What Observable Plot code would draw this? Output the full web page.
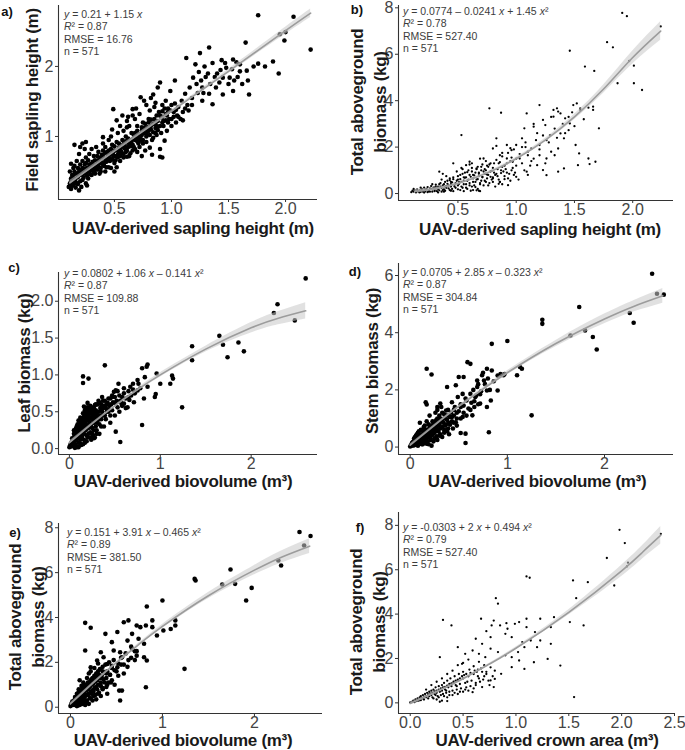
<!DOCTYPE html>
<html><head><meta charset="utf-8">
<script src="https://cdn.jsdelivr.net/npm/d3@7"></script>
<script src="https://cdn.jsdelivr.net/npm/@observablehq/plot@0.6"></script>
<style>
html,body{margin:0;padding:0;background:#fff;}
#wrap{position:relative;width:685px;height:750px;overflow:hidden;font-family:"Liberation Sans",Arial,sans-serif;}
.cell{position:absolute;}
.t{position:absolute;white-space:nowrap;line-height:1;}
.lab{font-weight:bold;font-size:13px;color:#111;transform:translate(-50%,-50%);}
.xt{font-weight:bold;font-size:17px;letter-spacing:-0.3px;color:#1a1a1a;transform:translate(-50%,-50%);}
.yt{font-weight:bold;font-size:17px;letter-spacing:-0.3px;color:#1a1a1a;transform:translate(-50%,-50%) rotate(-90deg);text-align:center;}
.ann{font-size:10.5px;color:#3c3c3c;line-height:12.3px;}
.ann i{font-style:italic;}
</style>
</head><body>
<div id="wrap"></div>
<script>
// ---------- Panel a: UAV-derived vs field sapling height ----------
const ptsA = [[1.76,2.73],[2.07,2.71],[1.95,2.46],[2.0,2.49],[1.99,2.37],[2.22,2.24],[1.65,2.34],[1.33,2.27],[1.25,2.19],[1.13,2.12],[1.44,2.09],[1.54,2.10],[1.76,2.04],[1.82,2.0],[1.89,2.07],[1.94,1.90],[1.68,1.60],[1.54,1.65],[1.67,1.80],[1.66,1.94],[1.60,2.03],[1.57,2.06],[1.51,1.84],[1.53,1.96],[1.42,1.77],[1.36,1.46],[1.27,1.70],[1.21,2.03],[1.19,1.84],[1.16,1.70],[1.12,1.61],[1.03,1.80],[0.99,1.65],[0.90,1.77],[0.88,1.70],[0.95,1.51],[1.06,1.42],[1.09,1.51],[1.15,1.37],[1.10,1.23],[0.99,1.37],[1.27,1.51],[1.33,1.61],[1.39,1.70],[1.45,1.84],[1.48,1.98],[1.40,1.90],[1.30,1.85],[1.24,1.92],[1.22,1.75],[1.18,1.55],[1.28,1.62],[1.34,1.75],[1.45,1.60],[1.58,1.85],[1.62,1.75],[1.72,2.0],[1.60,1.93],[1.29,2.0],[1.32,1.90],[1.36,2.05],[1.38,1.85],[1.43,1.95],[1.47,2.05],[1.50,1.75],[1.55,1.80],[1.26,1.80],[1.23,1.62],
[0.73,1.56],[0.76,1.51],[0.81,1.37],[0.85,1.42],[0.91,1.27],[0.66,1.39],[0.57,1.30],[0.52,1.23],[0.49,1.39],[0.61,1.13],[0.70,1.04],[0.79,1.13],[0.88,1.09],[0.94,0.94],[0.90,0.82],[0.90,0.71],[0.81,0.84],[0.64,0.94],[0.55,0.80],[0.40,0.99],[0.34,0.85],[0.22,0.90],[0.19,0.75],[0.12,0.61],[0.10,0.28],[0.19,0.23],[0.25,0.33],[0.37,0.47],[0.43,0.56],[0.31,0.56],[0.52,0.56],[0.61,0.71],[0.67,0.85],[0.73,0.94],
[0.82,1.55],[0.86,1.48],[0.92,1.45],[0.97,1.40],[1.02,1.35],[1.05,1.30],[1.08,1.25],[1.12,1.40],[1.03,1.47],[0.95,1.32],[0.86,1.20],[0.80,1.25],[0.75,1.20],[0.70,1.15],[0.68,1.25],[0.72,1.32],[0.78,1.00],[0.84,0.98],[0.86,1.05],[0.93,1.15],[0.97,1.20],[1.00,1.25],[0.60,1.00],[0.57,0.95],[0.53,1.05],[0.48,1.10],[0.45,0.95],[0.45,0.80],[0.50,0.72],[0.55,0.65],[0.58,0.75],[0.62,0.85],[0.65,1.05],[0.68,0.95],[0.72,0.85],[0.75,0.90],[0.77,0.80],[0.40,0.80],[0.38,0.70],[0.35,0.65],[0.32,0.72],[0.28,0.75],[0.25,0.70],[0.22,0.65],[0.18,0.55],[0.15,0.50],[0.13,0.45],[0.14,0.35],[0.16,0.40],[0.20,0.45],[0.23,0.50],[0.26,0.55],[0.29,0.60],[0.33,0.58],[0.36,0.62],[0.40,0.60],[0.42,0.68],[0.46,0.65],[0.50,0.62],[0.53,0.70],[0.56,0.85],[0.60,0.78],[0.63,0.72],[0.66,0.80],[0.70,0.78],[0.74,0.72],[0.30,0.45],[0.27,0.40],[0.22,0.38],[0.18,0.32],[0.12,0.38],[0.11,0.50],[0.15,0.58],[0.20,0.60],[0.24,0.60],[0.28,0.50],[0.32,0.50],[0.35,0.53],[0.38,0.55],[0.42,0.50],[0.47,0.55],[0.50,0.50],[0.26,0.30],[0.21,0.28],[0.16,0.27],[0.30,0.82],[0.36,0.78],[0.42,0.85],[0.48,0.88],[0.52,0.92],[0.58,1.08],[0.63,1.15],[0.20,0.85],[0.27,0.66],[0.33,0.66],[0.39,0.74],[0.44,0.74],[0.49,0.78],[0.54,0.78],[0.59,0.88],[0.65,0.90],[0.70,0.95],[0.74,1.08],[0.78,1.10],[0.82,1.15],[0.87,1.30],[0.92,1.36],[0.96,1.08],[1.00,1.15],[1.04,1.20],[1.06,1.28],[1.10,1.35],[1.14,1.45],[1.18,1.45],[0.40,0.90],[0.47,1.00],[0.55,1.15],[0.61,1.22],[0.66,1.30],[0.69,1.40],[0.78,1.45],[0.84,1.60],[0.62,1.28],[0.24,0.82],[0.17,0.65],[0.14,0.55],[0.12,0.25]];
const ptsA2 = [[0.11,0.33],[0.12,0.29],[0.13,0.41],[0.14,0.30],[0.15,0.37],[0.16,0.47],[0.17,0.33],[0.18,0.42],[0.19,0.50],[0.20,0.36],[0.21,0.46],[0.22,0.55],[0.23,0.41],[0.24,0.47],[0.25,0.62],[0.26,0.44],[0.27,0.53],[0.28,0.60],[0.29,0.46],[0.30,0.52],[0.31,0.64],[0.32,0.55],[0.33,0.47],[0.34,0.60],[0.35,0.72],[0.36,0.57],[0.37,0.66],[0.38,0.50],[0.39,0.63],[0.40,0.70],[0.41,0.58],[0.42,0.77],[0.43,0.64],[0.44,0.69],[0.45,0.56],[0.46,0.74],[0.47,0.82],[0.48,0.67],[0.49,0.72],[0.50,0.86],[0.51,0.66],[0.52,0.80],[0.53,0.74],[0.54,0.90],[0.55,0.72],[0.56,0.79],[0.57,0.87],[0.58,0.70],[0.59,0.83],[0.60,0.93],[0.61,0.80],[0.62,0.97],[0.63,0.88],[0.64,0.76],[0.65,0.95],[0.66,0.88],[0.67,1.02],[0.68,0.82],[0.69,0.98],[0.70,1.08],[0.71,0.90],[0.72,1.03],[0.73,0.97],[0.74,1.13],[0.75,0.95],[0.76,1.05],[0.77,1.18],[0.78,0.92],[0.79,1.07],[0.80,1.20],[0.81,1.02],[0.82,1.10],[0.83,0.95],[0.84,1.18],[0.85,1.25],[0.86,1.12],[0.87,1.02],[0.88,1.22],[0.89,1.35],[0.90,1.15],[0.91,1.05],[0.92,1.28],[0.93,1.22],[0.94,1.40],[0.96,1.30],[0.98,1.25],[1.00,1.45],[1.02,1.28],[1.04,1.38],
[0.12,0.40],[0.14,0.45],[0.16,0.35],[0.18,0.47],[0.20,0.52],[0.22,0.46],[0.24,0.54],[0.26,0.49],[0.28,0.56],[0.30,0.61],[0.32,0.59],[0.34,0.53],[0.36,0.66],[0.38,0.62],[0.40,0.73],[0.42,0.64],[0.44,0.78],[0.46,0.69],[0.48,0.76],[0.50,0.80],[0.52,0.72],[0.54,0.84],[0.56,0.76],[0.58,0.89],[0.60,0.84],[0.62,0.92],[0.64,0.86],[0.66,0.96],[0.68,1.05],[0.70,0.93],[0.72,0.98],[0.74,1.02],[0.76,1.12],[0.78,1.03],[0.80,1.08],[0.82,1.24],[0.84,1.06],[0.86,1.17],[0.88,1.14],[0.90,1.30],[0.92,1.20],[0.95,1.23],[0.97,1.35],[0.25,0.92],[0.15,0.88],[0.83,0.74],[0.92,0.70]];
const fitA = [[0.11,0.34,0.31,0.37],[0.5,0.79,0.77,0.81],[1.0,1.36,1.34,1.38],[1.5,1.93,1.90,1.96],[2.0,2.51,2.46,2.56],[2.22,2.76,2.70,2.82]];

// ---------- Panel b ----------
const ptsB = [[1.91,7.78],[1.95,7.64],[2.24,7.2],[1.78,6.52],[1.83,6.3],[1.46,6.15],[1.59,5.47],[1.67,5.28],[1.97,5.71],[2.01,5.51],[1.87,4.75],[2.01,4.75],[2.08,4.46],[1.71,2.81],[1.66,3.74],[1.66,3.6],[1.45,2.73],[1.51,2.09],[1.54,1.73],[1.53,1.22],[1.62,1.51],[1.63,1.27],[1.68,1.37],[1.41,1.08],[1.36,0.94],[1.26,0.79],[1.23,1.01],[0.77,3.67],[0.87,3.48],[0.53,2.52],[1.09,3.45],[1.20,3.81],[1.32,3.6],[1.35,3.67],[1.36,3.53],[1.49,3.81],[1.52,3.88],[1.55,3.67],[1.42,3.24],[1.46,3.02],[1.32,3.31],[1.23,3.17],[1.15,2.88],[1.07,2.81],[1.05,2.38],[1.0,2.09],[0.96,1.87],[0.92,2.09],[0.83,2.38],[0.80,1.94],[0.86,1.65],[0.92,1.51],[0.97,1.37],[1.03,1.51],[1.10,1.65],[1.13,1.94],[1.20,2.09],[1.26,2.30],[1.29,2.52],[1.38,2.59],[1.41,2.38],[1.36,1.94],[1.20,1.65],[1.18,1.22],[1.09,0.94],[1.0,0.72],[0.93,0.36],[0.86,0.50],[0.66,0.14],[0.69,0.1],[0.80,0.65],[0.74,0.86],[0.66,1.08],[0.60,1.37],[0.72,1.51],[0.34,0.94],[0.46,1.3],[0.57,1.22],[1.26,1.51],[1.33,1.65],
[0.15,0.1],[0.18,0.12],[0.2,0.08],[0.22,0.15],[0.25,0.1],[0.27,0.2],[0.3,0.15],[0.3,0.25],[0.33,0.2],[0.35,0.3],[0.37,0.15],[0.38,0.4],[0.4,0.25],[0.42,0.35],[0.44,0.5],[0.45,0.2],[0.47,0.3],[0.48,0.45],[0.5,0.6],[0.5,0.35],[0.52,0.15],[0.53,0.5],[0.55,0.7],[0.55,0.4],[0.57,0.25],[0.58,0.55],[0.6,0.8],[0.6,0.45],[0.62,0.3],[0.63,0.65],[0.65,0.9],[0.65,0.5],[0.67,0.2],[0.68,0.75],[0.7,1.0],[0.7,0.55],[0.72,0.35],[0.73,0.85],[0.75,1.2],[0.75,0.65],[0.77,0.45],[0.78,0.95],[0.8,1.1],[0.8,0.7],[0.82,0.3],[0.83,0.85],[0.85,1.3],[0.85,0.6],[0.87,1.0],[0.88,0.4],[0.9,1.2],[0.9,0.75],[0.92,0.9],[0.95,1.4],[0.95,0.55],[0.97,1.1],[0.98,0.8],[1.0,1.5],[1.0,1.2],[1.02,0.6],[1.05,1.3],[1.07,1.0],[1.1,1.8],[1.1,0.8],[1.12,1.2],[1.15,1.5],[0.17,0.05],[0.21,0.04],[0.24,0.06],[0.28,0.08],[0.32,0.1],[0.36,0.08],[0.39,0.12],[0.43,0.15],[0.46,0.1],[0.5,0.18],[0.54,0.25],[0.58,0.2],[0.61,0.12],[0.64,0.35],[0.66,0.6],[0.69,0.45],[0.71,0.7],[0.74,0.5],[0.76,0.8],[0.79,0.6],[0.81,0.9],[0.84,0.75],[0.86,0.5],[0.89,0.95],[0.91,1.05],[0.93,0.65],[0.96,1.0],[0.99,0.9],[0.34,0.4],[0.41,0.55],[0.46,0.7],[0.52,0.8],[0.56,0.9],[0.59,1.0],[0.62,1.1],[0.67,1.15],[0.71,1.25],[0.74,1.4],[0.37,0.85],[0.43,0.65],[0.49,0.95],[0.54,1.05],[0.62,1.3],[0.69,1.5],[0.78,1.3],[0.83,1.45],[0.88,1.6],[0.93,1.75],[0.98,1.9],[1.03,1.7],[1.08,2.0],[1.13,1.4],[1.17,2.3],[1.2,1.9],[1.23,2.5],[1.25,1.3],[1.28,2.2],[1.3,1.8],[1.33,2.8],[1.35,2.4],[1.4,3.0],[1.42,2.6],[1.45,3.3],[1.48,3.5],[1.5,2.9],[1.55,3.6],[1.58,3.2],[1.62,3.7],[1.25,2.95],[1.18,2.6],[1.15,3.0],[1.3,3.3],[1.38,3.45],[1.05,2.0],[1.08,2.2],[0.95,1.95],[0.88,1.75],[0.83,2.05],[0.76,1.15],[0.73,1.05],[0.68,0.9],[0.63,0.8],[0.57,0.7],[0.51,0.5],[0.44,0.4],[0.39,0.3],[0.31,0.3],[0.26,0.22],[0.23,0.2]];
const ptsB2 = [[0.10,0.06],[0.11,0.12],[0.12,0.08],[0.13,0.15],[0.14,0.05],[0.15,0.18],[0.16,0.09],[0.17,0.14],[0.18,0.07],[0.19,0.2],[0.2,0.12],[0.21,0.25],[0.22,0.09],[0.23,0.18],[0.24,0.28],[0.25,0.15],[0.26,0.08],[0.27,0.32],[0.28,0.18],[0.29,0.25],[0.3,0.1],[0.31,0.38],[0.32,0.22],[0.33,0.3],[0.34,0.14],[0.35,0.45],[0.36,0.25],[0.37,0.35],[0.38,0.18],[0.39,0.5],[0.4,0.32],[0.41,0.42],[0.42,0.22],[0.43,0.58],[0.44,0.3],[0.45,0.48],[0.46,0.62],[0.47,0.38],[0.48,0.25],[0.49,0.55],[0.5,0.75],[0.51,0.42],[0.52,0.62],[0.53,0.3],[0.54,0.85],[0.55,0.55],[0.56,0.68],[0.57,0.4],[0.58,0.92],[0.59,0.6],[0.6,0.35],[0.61,0.72],[0.62,0.95],[0.63,0.5],[0.64,0.78],[0.65,0.28],[0.66,1.05],[0.67,0.62],[0.68,0.85],[0.69,0.4],[0.7,1.15],[0.71,0.72],[0.72,0.95],[0.73,0.55],[0.74,1.0],[0.75,0.82],[0.76,0.35],[0.77,1.25],[0.78,0.72],[0.79,0.98],[0.8,0.5],[0.81,1.3],[0.82,0.8],[0.84,1.05],[0.85,0.42],[0.86,1.35],[0.87,0.88],[0.88,1.15],[0.9,0.62],[0.92,1.3],[0.94,0.85],[0.96,1.55],[0.12,0.2],[0.18,0.25],[0.28,0.4],[0.36,0.6],[0.4,0.75],[0.53,1.1],[0.6,1.25],[0.33,0.05],[0.38,0.08],[0.44,0.12],[0.55,0.1],[0.63,0.15],[0.68,0.12]];
const fitB = [[0.13,0.1,0.02,0.18],[0.3,0.2,0.14,0.26],[0.5,0.43,0.38,0.48],[0.75,0.88,0.83,0.93],[1.0,1.5,1.44,1.56],[1.25,2.3,2.22,2.38],[1.5,3.3,3.18,3.42],[1.75,4.5,4.32,4.68],[2.0,5.86,5.58,6.14],[2.24,7.0,6.6,7.4]];

// ---------- Panel c ----------
const ptsC = [[2.6,2.31],[2.29,1.96],[2.25,1.84],[2.48,1.74],[1.65,1.53],[1.35,1.39],[1.35,1.2],[1.69,1.41],[1.86,1.44],[1.92,1.32],[1.74,1.24],[1.24,0.56],[0.39,1.13],[0.15,0.98],[0.15,0.89],[0.21,0.95],[0.10,0.38],[0.27,0.14],[0.51,0.23],[0.56,0.09],[0.80,0.32],[0.94,0.7],[1.0,0.88],[1.11,0.88],[1.14,0.95],[1.13,0.99],[0.96,1.02],[0.85,1.11],[0.86,1.14],[0.80,1.09],[0.83,0.97],[0.75,0.93],[0.76,0.88],[0.75,0.79],[0.67,0.84],[0.65,0.7],[0.71,0.63],[0.60,0.61],[0.53,0.56],[0.56,0.65],[0.51,0.79],[0.47,0.7],[0.42,0.61],[0.64,0.56],[0.82,0.68],[0.86,0.84],[0.95,0.74],[0.49,0.77],[0.54,0.88],[0.36,0.7],[0.32,0.65],[0.28,0.59],[0.24,0.56],[0.2,0.56],[0.16,0.57],[0.43,0.53],[0.35,0.45],
[0,0.02],[0.01,0.05],[0.02,0.03],[0.02,0.08],[0.03,0.1],[0.03,0.04],[0.04,0.12],[0.04,0.06],[0.05,0.15],[0.05,0.08],[0.06,0.18],[0.06,0.1],[0.07,0.2],[0.07,0.05],[0.08,0.22],[0.08,0.12],[0.09,0.25],[0.09,0.15],[0.1,0.28],[0.1,0.18],[0.1,0.08],[0.11,0.3],[0.11,0.2],[0.12,0.32],[0.12,0.22],[0.12,0.12],[0.13,0.35],[0.13,0.25],[0.14,0.38],[0.14,0.28],[0.14,0.16],[0.15,0.4],[0.15,0.3],[0.16,0.43],[0.16,0.33],[0.16,0.2],[0.17,0.45],[0.17,0.35],[0.18,0.48],[0.18,0.38],[0.18,0.25],[0.19,0.42],[0.2,0.5],[0.2,0.4],[0.2,0.3],[0.21,0.45],[0.22,0.52],[0.22,0.35],[0.23,0.48],[0.24,0.42],[0.24,0.3],[0.25,0.5],[0.26,0.45],[0.26,0.35],[0.27,0.55],[0.28,0.48],[0.28,0.38],[0.29,0.52],[0.3,0.45],[0.3,0.35],[0.31,0.6],[0.32,0.5],[0.33,0.4],[0.34,0.55],[0.35,0.6],[0.36,0.5],[0.37,0.45],[0.38,0.58],[0.39,0.65],[0.4,0.55],[0.41,0.5],[0.42,0.62],[0.44,0.58],[0.45,0.68],[0.46,0.6],[0.48,0.63],[0.5,0.7],[0.52,0.65],[0.55,0.72],[0.58,0.7],[0.6,0.75],[0.62,0.68],[0.65,0.78],[0.68,0.72],[0.7,0.8],[0.72,0.75],[0.25,0.2],[0.23,0.15],[0.19,0.1],[0.15,0.06],[0.1,0.02],[0.06,0.01],[0.3,0.25],[0.28,0.15],[0.35,0.3],[0.33,0.2],[0.4,0.4],[0.38,0.3],[0.45,0.45],[0.5,0.45],[0.55,0.5],[0.58,0.58],[0.62,0.55],[0.45,0.35],[0.2,0.62],[0.18,0.55],[0.12,0.42],[0.08,0.3],[0.13,0.05],[0.17,0.08],[0.21,0.2],[0.05,0.25]];
const ptsC2 = [[0.03,0.14],[0.05,0.2],[0.07,0.12],[0.07,0.27],[0.09,0.2],[0.09,0.33],[0.11,0.14],[0.11,0.38],[0.13,0.2],[0.13,0.3],[0.15,0.22],[0.15,0.35],[0.15,0.48],[0.17,0.27],[0.17,0.4],[0.17,0.52],[0.19,0.18],[0.19,0.32],[0.19,0.55],[0.21,0.28],[0.21,0.38],[0.21,0.52],[0.23,0.22],[0.23,0.33],[0.23,0.42],[0.23,0.58],[0.25,0.28],[0.25,0.4],[0.25,0.55],[0.27,0.25],[0.27,0.35],[0.27,0.45],[0.29,0.3],[0.29,0.42],[0.29,0.6],[0.31,0.38],[0.31,0.5],[0.33,0.33],[0.33,0.45],[0.33,0.62],[0.35,0.4],[0.35,0.52],[0.37,0.55],[0.37,0.65],[0.39,0.45],[0.39,0.58],[0.41,0.6],[0.43,0.5],[0.43,0.68],[0.47,0.52],[0.47,0.72],[0.5,0.62],[0.53,0.78],[0.57,0.62],[0.6,0.82],[0.66,0.66],[0.7,0.88],[0.78,0.82],[0.08,0.02],[0.12,0.07],[0.16,0.12],[0.2,0.15],[0.24,0.12],[0.26,0.18],[0.3,0.2]];
const fitC = [[0.0,0.08,0.06,0.10],[0.25,0.34,0.33,0.35],[0.5,0.58,0.57,0.59],[0.75,0.8,0.78,0.82],[1.0,1.0,0.97,1.03],[1.5,1.35,1.31,1.39],[2.0,1.64,1.57,1.71],[2.3,1.77,1.68,1.86],[2.6,1.87,1.76,1.98]];

// ---------- Panel d ----------
const ptsD = [[2.49,6.06],[2.54,5.36],[2.61,5.33],[1.74,4.9],[1.65,3.9],[1.80,4.08],[1.88,3.85],[1.92,3.41],[2.26,4.69],[2.30,4.35],[1.36,4.45],[1.36,4.31],[0.84,3.61],[1.0,3.71],[1.25,1.11],[0.17,2.74],[0.22,2.54],[1.13,2.8],[1.15,2.74],[1.10,2.51],[0.96,2.51],[0.59,2.97],[0.62,2.91],[0.81,0.52],[0.57,0.47],[0.57,0.14],[0.52,0.49],[0.38,2.1],[0.47,2.16],[0.84,2.68],[0.79,2.74],[0.74,2.51],[0.76,2.33],[0.69,2.1],[0.79,1.98],[0.83,1.63],[0.72,1.52],[0.67,1.75],[0.62,1.86],[0.58,1.63],[0.52,1.4],[0.54,1.86],[0.49,1.75],[0.43,1.57],[0.31,1.52],[0.28,1.4],[0.37,1.28],[0.16,1.57],[0.17,1.49],[0.42,1.05],[0.47,0.87],[0.54,1.05],[0.64,1.11],[0.66,1.4],[0.79,1.4],[0.69,2.33],[0.9,1.98],[0.5,2.45],[0.55,2.45],
[0.0,0.02],[0.01,0.08],[0.02,0.05],[0.02,0.15],[0.03,0.1],[0.04,0.2],[0.04,0.06],[0.05,0.25],[0.05,0.12],[0.06,0.3],[0.06,0.15],[0.07,0.22],[0.08,0.35],[0.08,0.18],[0.09,0.28],[0.1,0.4],[0.1,0.2],[0.11,0.32],[0.12,0.45],[0.12,0.25],[0.13,0.38],[0.14,0.5],[0.14,0.28],[0.15,0.42],[0.16,0.55],[0.16,0.3],[0.17,0.45],[0.18,0.6],[0.18,0.35],[0.19,0.5],[0.2,0.7],[0.2,0.4],[0.21,0.55],[0.22,0.75],[0.22,0.45],[0.23,0.6],[0.24,0.85],[0.24,0.5],[0.25,0.65],[0.26,0.9],[0.26,0.55],[0.27,0.7],[0.28,1.0],[0.28,0.6],[0.29,0.75],[0.3,1.1],[0.3,0.8],[0.31,0.65],[0.32,0.9],[0.33,1.2],[0.34,0.85],[0.35,1.0],[0.36,0.75],[0.37,1.1],[0.38,0.95],[0.39,1.3],[0.4,0.85],[0.41,1.05],[0.42,1.2],[0.43,0.9],[0.45,1.1],[0.46,1.4],[0.48,1.0],[0.5,1.25],[0.52,1.5],[0.55,1.2],[0.57,1.7],[0.6,1.35],[0.63,1.55],[0.65,2.0],[0.68,1.8],[0.7,2.2],[0.73,1.95],[0.75,2.6],[0.77,2.2],[0.8,2.4],[0.82,2.0],[0.86,2.3],[0.9,2.5],[0.93,2.55],[0.97,2.55],[0.12,0.1],[0.15,0.15],[0.18,0.2],[0.21,0.25],[0.25,0.3],[0.3,0.4],[0.35,0.5],[0.22,0.05],[0.19,0.1],[0.17,0.9],[0.14,0.7],[0.11,0.6],[0.28,1.3],[0.32,1.4],[0.26,1.2],[0.08,0.5],[0.06,0.4],[0.04,0.3],[0.44,0.65],[0.38,0.55]];
const ptsD2 = [[0.03,0.18],[0.05,0.08],[0.05,0.35],[0.07,0.15],[0.07,0.45],[0.09,0.22],[0.09,0.55],[0.11,0.15],[0.11,0.42],[0.13,0.25],[0.13,0.6],[0.15,0.32],[0.15,0.75],[0.17,0.22],[0.17,0.6],[0.19,0.38],[0.19,0.8],[0.21,0.3],[0.21,0.68],[0.23,0.42],[0.23,0.9],[0.25,0.5],[0.25,0.8],[0.27,0.38],[0.27,0.95],[0.29,0.55],[0.29,0.88],[0.31,0.45],[0.31,1.0],[0.33,0.7],[0.33,0.95],[0.35,0.6],[0.35,1.15],[0.37,0.8],[0.39,0.65],[0.39,1.1],[0.41,0.78],[0.43,1.05],[0.45,0.85],[0.45,1.3],[0.48,0.75],[0.48,1.2],[0.52,1.0],[0.55,1.45],[0.58,1.1],[0.62,1.3],[0.66,1.6],[0.7,1.5],[0.72,1.85],[0.08,0.05],[0.13,0.1],[0.17,0.12],[0.24,0.2],[0.28,0.25],[0.33,0.35],[0.4,0.45],[0.1,0.85],[0.2,1.1]];
const fitD = [[0.0,0.07,0.03,0.11],[0.25,0.76,0.73,0.79],[0.5,1.42,1.39,1.45],[0.75,2.03,1.98,2.08],[1.0,2.6,2.53,2.67],[1.5,3.62,3.51,3.73],[2.0,4.48,4.31,4.65],[2.3,4.92,4.72,5.12],[2.6,5.29,5.03,5.55]];

// ---------- Panel e ----------
const ptsE = [[2.49,7.81],[2.61,7.63],[2.54,7.21],[2.26,6.54],[2.29,6.32],[1.74,6.14],[1.65,5.47],[1.79,5.5],[1.97,5.32],[1.91,4.76],[1.35,5.72],[1.36,5.65],[0.83,4.49],[1.0,4.76],[1.24,1.71],[0.16,3.76],[0.22,3.54],[0.16,2.53],[0.38,3.27],[0.45,2.9],[0.51,3.35],[0.58,3.79],[0.63,3.87],[0.72,3.64],[0.76,3.57],[0.82,3.64],[0.89,3.87],[0.89,3.57],[0.94,3.2],[1.01,3.42],[1.09,3.49],[1.14,3.87],[1.14,3.64],[0.80,2.83],[0.74,3.05],[0.67,2.6],[0.54,2.45],[0.56,2.23],[0.72,2.3],[0.80,2.23],[0.83,2.08],[0.82,0.89],[0.53,0.74],[0.56,0.74],[0.54,0.3],[0.51,1.78],[0.47,2.53],[0.40,1.93],[0.36,2.23],[0.33,2.45],[0.29,2.08],[0.22,1.78],[0.62,2.97],[0.67,3.27],
[0.0,0.05],[0.01,0.15],[0.02,0.1],[0.02,0.25],[0.03,0.18],[0.04,0.3],[0.04,0.1],[0.05,0.35],[0.05,0.2],[0.06,0.45],[0.06,0.25],[0.07,0.35],[0.08,0.55],[0.08,0.3],[0.09,0.45],[0.1,0.6],[0.1,0.35],[0.11,0.5],[0.12,0.7],[0.12,0.4],[0.13,0.6],[0.14,0.8],[0.14,0.45],[0.15,0.65],[0.16,0.9],[0.16,0.5],[0.17,0.75],[0.18,1.0],[0.18,0.55],[0.19,0.8],[0.2,1.1],[0.2,0.6],[0.21,0.9],[0.22,1.2],[0.22,0.7],[0.23,1.0],[0.24,1.3],[0.24,0.75],[0.25,1.05],[0.26,1.4],[0.26,0.85],[0.27,1.15],[0.28,1.5],[0.28,0.9],[0.29,1.2],[0.3,1.6],[0.3,1.0],[0.31,1.3],[0.32,1.7],[0.33,1.1],[0.34,1.4],[0.35,1.8],[0.36,1.25],[0.37,1.55],[0.38,1.9],[0.39,1.3],[0.4,1.6],[0.42,2.0],[0.43,1.45],[0.45,1.75],[0.47,2.1],[0.5,1.6],[0.52,1.95],[0.55,2.2],[0.58,1.9],[0.6,2.4],[0.63,2.1],[0.66,2.7],[0.7,2.5],[0.12,0.15],[0.15,0.25],[0.18,0.3],[0.22,0.4],[0.25,0.5],[0.3,0.6],[0.2,0.15],[0.16,0.1],[0.1,0.1],[0.07,0.05],[0.14,1.1],[0.12,0.95],[0.09,0.8],[0.18,1.3],[0.22,1.6],[0.26,1.75],[0.3,1.95],[0.35,0.85],[0.4,1.0],[0.44,1.1]];
const ptsE2 = [[0.03,0.25],[0.05,0.12],[0.05,0.45],[0.07,0.2],[0.07,0.6],[0.09,0.3],[0.09,0.7],[0.11,0.2],[0.11,0.6],[0.13,0.35],[0.13,0.85],[0.15,0.45],[0.15,1.0],[0.17,0.3],[0.17,0.85],[0.19,0.55],[0.19,1.1],[0.21,0.4],[0.21,0.95],[0.23,0.6],[0.23,1.25],[0.25,0.7],[0.25,1.15],[0.27,0.55],[0.27,1.35],[0.29,0.8],[0.29,1.3],[0.31,0.65],[0.31,1.45],[0.33,0.95],[0.33,1.3],[0.35,0.8],[0.35,1.6],[0.37,1.1],[0.39,0.9],[0.39,1.5],[0.41,1.1],[0.43,1.45],[0.45,1.2],[0.45,1.85],[0.48,1.0],[0.48,1.65],[0.52,1.4],[0.55,1.9],[0.58,1.5],[0.62,1.8],[0.66,2.2],[0.7,2.1],[0.72,2.5],[0.08,0.08],[0.13,0.15],[0.17,0.18],[0.24,0.3],[0.28,0.35],[0.33,0.5],[0.4,0.6],[0.1,1.2],[0.2,1.5]];
const fitE = [[0.0,0.15,0.1,0.2],[0.25,1.1,1.06,1.14],[0.5,1.99,1.95,2.03],[0.75,2.82,2.76,2.88],[1.0,3.6,3.51,3.69],[1.5,4.97,4.83,5.11],[2.0,6.11,5.9,6.32],[2.3,6.7,6.43,6.97],[2.6,7.18,6.85,7.51]];

// ---------- Panel f ----------
const ptsF = [[1.98,7.80],[2.03,7.2],[2.37,7.62],[1.86,6.53],[2.05,6.15],[2.06,6.32],[1.93,5.29],[1.54,5.52],[1.68,5.44],[1.57,4.72],[1.10,5.7],[1.13,5.64],[0.81,4.72],[0.83,4.47],[0.31,3.74],[0.39,3.49],[0.28,2.06],[0.45,2.51],[0.67,3.79],[0.79,3.71],[0.77,3.49],[0.72,3.23],[0.85,3.49],[0.91,3.59],[0.92,3.34],[0.99,3.56],[1.03,3.64],[1.10,3.79],[1.10,3.41],[1.23,3.79],[1.36,3.86],[1.33,3.41],[1.51,3.64],[1.64,3.49],[1.33,2.66],[1.30,1.98],[1.42,1.68],[1.55,0.26],[1.18,3.19],[1.14,2.81],[0.90,3.11],[0.96,2.96],[0.76,2.96],[0.68,2.66],[0.62,2.89],[0.59,2.36],[0.52,2.21],[0.49,1.76],[0.65,2.21],[0.71,2.06],[0.76,2.44],[0.83,2.29],[0.9,2.14],[0.96,2.06],[1.02,2.29],[1.03,1.91],[0.96,1.61],[0.86,1.31],[0.80,1.08],[0.79,0.71],[0.76,1.01],[0.68,0.71],[0.59,0.48],[1.08,1.53],[1.17,1.83],[1.08,2.51],[1.20,2.51],[1.23,2.81],[1.06,2.74],
[0.0,0.02],[0.02,0.05],[0.03,0.1],[0.04,0.03],[0.05,0.15],[0.06,0.08],[0.07,0.2],[0.08,0.1],[0.09,0.25],[0.1,0.12],[0.1,0.3],[0.12,0.2],[0.12,0.35],[0.13,0.15],[0.14,0.4],[0.15,0.25],[0.16,0.45],[0.17,0.2],[0.18,0.5],[0.18,0.3],[0.2,0.55],[0.2,0.35],[0.21,0.25],[0.22,0.6],[0.23,0.4],[0.24,0.7],[0.25,0.45],[0.26,0.3],[0.27,0.75],[0.28,0.5],[0.29,0.35],[0.3,0.8],[0.3,0.55],[0.31,0.4],[0.32,0.9],[0.33,0.6],[0.34,0.45],[0.35,1.0],[0.36,0.7],[0.37,0.5],[0.38,1.1],[0.39,0.75],[0.4,0.55],[0.41,0.9],[0.42,1.2],[0.43,0.8],[0.44,0.6],[0.45,1.0],[0.46,1.3],[0.47,0.85],[0.48,0.65],[0.5,1.1],[0.5,1.4],[0.52,0.9],[0.53,0.7],[0.55,1.2],[0.56,1.5],[0.58,1.0],[0.6,1.3],[0.62,0.9],[0.63,1.4],[0.65,1.1],[0.67,1.55],[0.7,1.2],[0.72,1.4],[0.74,1.0],[0.76,1.6],[0.3,0.1],[0.25,0.15],[0.35,0.25],[0.4,0.35],[0.45,0.4],[0.5,0.5],[0.55,0.55],[0.6,0.65],[0.15,0.6],[0.2,0.8],[0.25,0.95],[0.3,1.1],[0.35,1.3],[0.4,1.45],[0.45,1.7],[0.5,1.8],[0.55,1.95],[0.6,1.65],[0.65,1.85],[0.7,1.7],[0.35,0.08],[0.28,0.05]];
const ptsF2 = [[0.03,0.05],[0.05,0.1],[0.07,0.12],[0.09,0.15],[0.11,0.22],[0.13,0.28],[0.15,0.3],[0.17,0.38],[0.19,0.42],[0.21,0.45],[0.23,0.52],[0.25,0.55],[0.27,0.6],[0.29,0.65],[0.31,0.7],[0.33,0.72],[0.35,0.78],[0.37,0.85],[0.39,0.88],[0.41,0.95],[0.43,1.0],[0.45,1.05],[0.47,1.1],[0.49,1.2],[0.51,1.25],[0.53,1.3],[0.57,1.35],[0.61,1.45],[0.64,1.5],[0.68,1.4],[0.22,0.2],[0.27,0.25],[0.32,0.3],[0.37,0.35],[0.42,0.45],[0.47,0.5],[0.52,0.6],[0.57,0.75],[0.62,0.8],[0.66,0.95],[0.69,1.05],[0.24,0.35],[0.34,0.55],[0.44,0.75],[0.54,0.95],[0.64,1.2],[0.72,1.3],[0.78,1.2],[0.8,1.45],[0.75,0.8]];
const fitF = [[0.0,-0.03,-0.08,0.02],[0.25,0.5,0.47,0.53],[0.5,1.09,1.06,1.12],[0.75,1.75,1.71,1.79],[1.0,2.46,2.4,2.52],[1.5,4.08,3.96,4.2],[2.0,5.95,5.7,6.2],[2.2,6.8,6.5,7.1],[2.37,7.55,7.15,7.95]];

// ---------- tick labels ----------
const ticksHeightX = [0.5, 1.0, 1.5, 2.0];
const ticksVolX = [0, 1, 2];
const ticksCrownX = [0, 0.5, 1.0, 1.5, 2.0, 2.5];
const ticksA_Y = [1, 2];
const ticksLeafY = [0, 0.5, 1.0, 1.5, 2.0];
const ticksStemY = [0, 2, 4, 6];
const ticksTotalY = [0, 2, 4, 6, 8];

// ---------- panel texts ----------
const panelLabels = ["a)", "b)", "c)", "d)", "e)", "f)"];
const equations = [
  '<i>y</i> = 0.21 + 1.15 <i>x</i>',
  '<i>y</i> = 0.0774 – 0.0241 <i>x</i> + 1.45 <i>x</i>²',
  '<i>y</i> = 0.0802 + 1.06 <i>x</i> – 0.141 <i>x</i>²',
  '<i>y</i> = 0.0705 + 2.85 <i>x</i> – 0.323 <i>x</i>²',
  '<i>y</i> = 0.151 + 3.91 <i>x</i> – 0.465 <i>x</i>²',
  '<i>y</i> = -0.0303 + 2 <i>x</i> + 0.494 <i>x</i>²'
];
const r2 = ["0.87", "0.78", "0.87", "0.87", "0.89", "0.79"];
const rmse = ["16.76", "527.40", "109.88", "304.84", "381.50", "527.40"];
const nObs = ["571", "571", "571", "571", "571", "571"];
const xTitles = ["UAV-derived sapling height (m)", "UAV-derived sapling height (m)", "UAV-derived biovolume (m³)", "UAV-derived biovolume (m³)", "UAV-derived biovolume (m³)", "UAV-derived crown area (m³)"];
const yTitles = ["Field sapling height (m)", "Total aboveground<br>biomass (kg)", "Leaf biomass (kg)", "Stem biomass (kg)", "Total aboveground<br>biomass (kg)", "Total aboveground<br>biomass (kg)"];

// ---------- layout (positions/styles) ----------
const panels = [
  {pts: ptsA.concat(ptsA2), fit: fitA, r: 2.3, cx: 0, cy: 0, w: 340, L: 58, R: 317, T: 5, B: 199, xd: [0.01, 2.28], yd: [0.1, 2.87], xt: ticksHeightX, yt: ticksA_Y, xf: ".1f", yf: "d",
   lab: [7, 11], ann: [64, 8], xtPos: [193, 228], ytPos: [32, 100]},
  {pts: ptsB.concat(ptsB2), fit: fitB, r: 1.15, cx: 340, cy: 0, w: 345, L: 58, R: 333, T: 5, B: 200, xd: [-0.01, 2.35], yd: [-0.3, 8.1], xt: ticksHeightX, yt: ticksTotalY, xf: ".1f", yf: "d",
   lab: [17, 9], ann: [63, 5], xtPos: [200, 229], ytPos: [29, 102]},
  {pts: ptsC.concat(ptsC2), fit: fitC, r: 2.3, cx: 0, cy: 250, w: 340, L: 58, R: 317, T: 22, B: 204, xd: [-0.12, 2.73], yd: [-0.08, 2.39], xt: ticksVolX, yt: ticksLeafY, xf: "d", yf: ".1f",
   lab: [14, 17], ann: [64, 17], xtPos: [183, 231], ytPos: [24, 113]},
  {pts: ptsD.concat(ptsD2), fit: fitD, r: 2.3, cx: 340, cy: 250, w: 345, L: 58, R: 333, T: 13, B: 204, xd: [-0.12, 2.71], yd: [-0.26, 6.42], xt: ticksVolX, yt: ticksStemY, xf: "d", yf: "d",
   lab: [15, 21], ann: [63, 16], xtPos: [197, 231], ytPos: [32, 111]},
  {pts: ptsE.concat(ptsE2), fit: fitE, r: 2.3, cx: 0, cy: 500, w: 340, L: 58, R: 322, T: 23, B: 213, xd: [-0.13, 2.74], yd: [-0.28, 8.19], xt: ticksVolX, yt: ticksTotalY, xf: "d", yf: "d",
   lab: [15, 32], ann: [67, 26], xtPos: [183, 240], ytPos: [27, 117]},
  {pts: ptsF.concat(ptsF2), fit: fitF, r: 1.15, cx: 340, cy: 500, w: 345, L: 58, R: 334, T: 12, B: 213, xd: [-0.111, 2.5], yd: [-0.48, 8.58], xt: ticksCrownX, yt: ticksTotalY, xf: ".1f", yf: "d",
   lab: [20, 27], ann: [63, 21], xtPos: [207, 240], ytPos: [28, 122]}
];

const wrap = document.getElementById("wrap");
panels.forEach((p, i) => {
  const H = 250;
  const chart = Plot.plot({
    width: p.w, height: H,
    marginLeft: p.L, marginRight: p.w - p.R, marginTop: p.T, marginBottom: H - p.B,
    style: {fontFamily: '"Liberation Sans", Arial, sans-serif', fontSize: "16px", color: "#444", background: "transparent", overflow: "visible"},
    x: {domain: p.xd},
    y: {domain: p.yd},
    marks: [
      Plot.dot(p.pts, {x: d => d[0], y: d => d[1], r: p.r, fill: "#000", stroke: "none"}),
      Plot.areaY(p.fit, {x: d => d[0], y1: d => d[2], y2: d => d[3], fill: "#c8c8c8", fillOpacity: 0.55, curve: "natural"}),
      Plot.line(p.fit, {x: d => d[0], y: d => d[1], stroke: "#9c9c9c", strokeWidth: 1.6, curve: "natural"}),
      Plot.ruleX([p.xd[0]], {stroke: "#333", strokeWidth: 1.1}),
      Plot.ruleY([p.yd[0]], {stroke: "#333", strokeWidth: 1.1}),
      Plot.axisX({ticks: p.xt, tickFormat: d3.format(p.xf), tickSize: 3, tickPadding: 0, fontSize: 16, label: null, stroke: "#333", fill: "#444"}),
      Plot.axisY({ticks: p.yt, tickFormat: d3.format(p.yf), tickSize: 3, tickPadding: 2, fontSize: 16, label: null, stroke: "#333", fill: "#444"})
    ]
  });
  const cell = document.createElement("div");
  cell.className = "cell";
  cell.style.left = p.cx + "px"; cell.style.top = p.cy + "px";
  cell.appendChild(chart);
  wrap.appendChild(cell);

  const add = (cls, html, x, y) => {
    const d = document.createElement("div");
    d.className = "t " + cls;
    d.innerHTML = html;
    d.style.left = (p.cx + x) + "px"; d.style.top = (p.cy + y) + "px";
    wrap.appendChild(d);
    return d;
  };
  add("lab", panelLabels[i], p.lab[0], p.lab[1]);
  add("ann", equations[i] + "<br><i>R</i>² = " + r2[i] + "<br>RMSE = " + rmse[i] + "<br>n = " + nObs[i], p.ann[0], p.ann[1]);
  add("xt", xTitles[i], p.xtPos[0], p.xtPos[1]);
  const yt = add("yt", yTitles[i], p.ytPos[0], p.ytPos[1]);
  if (yTitles[i].includes("<br>")) yt.style.lineHeight = "23px";
});
</script>
</body></html>
